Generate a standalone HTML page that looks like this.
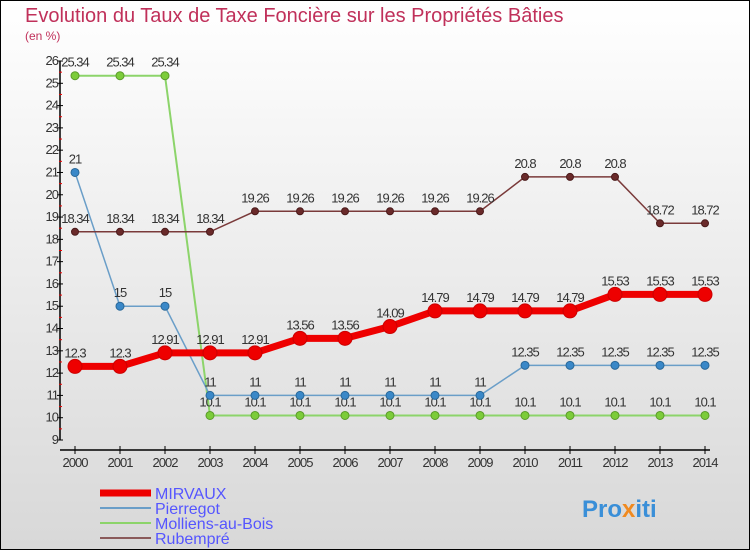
<!DOCTYPE html>
<html><head><meta charset="utf-8"><style>
body{margin:0}
#c{width:750px;height:550px;position:relative;background:linear-gradient(#fff,#d8d8d8);box-sizing:border-box;border:1px solid #000;overflow:hidden;font-family:"Liberation Sans",sans-serif}
</style></head><body>
<div id="c">
<svg id="s" width="750" height="550" style="position:absolute;left:-1px;top:-1px">
<text x="25" y="22" font-size="20" fill="#c0305a">Evolution du Taux de Taxe Foncière sur les Propriétés Bâties</text>
<text x="25" y="40" font-size="12" fill="#c0305a">(en %)</text>
<g id="axes"></g><g id="series"></g>
<g>
<line x1="100" y1="493" x2="151" y2="493" stroke="#e00" stroke-width="7"/>
<text x="155" y="499" font-size="16" fill="#55f">MIRVAUX</text>
<line x1="100" y1="508" x2="151" y2="508" stroke="#6a9ec8" stroke-width="2"/>
<text x="155" y="514" font-size="16" fill="#55f">Pierregot</text>
<line x1="100" y1="523" x2="151" y2="523" stroke="#8cd46a" stroke-width="2"/>
<text x="155" y="529" font-size="16" fill="#55f">Molliens-au-Bois</text>
<line x1="100" y1="538" x2="151" y2="538" stroke="#8a5a5a" stroke-width="2"/>
<text x="155" y="544" font-size="16" fill="#55f">Rubempré</text>
</g>
<text x="582" y="517" font-size="24" font-weight="bold" fill="#3a8fd8">Pro<tspan fill="#f08a20">x</tspan>iti</text>
</svg>
</div>
<script>
const years=[2000,2001,2002,2003,2004,2005,2006,2007,2008,2009,2010,2011,2012,2013,2014];
const mirvaux=[12.3,12.3,12.91,12.91,12.91,13.56,13.56,14.09,14.79,14.79,14.79,14.79,15.53,15.53,15.53];
const pierregot=[21,15,15,11,11,11,11,11,11,11,12.35,12.35,12.35,12.35,12.35];
const molliens=[25.34,25.34,25.34,10.1,10.1,10.1,10.1,10.1,10.1,10.1,10.1,10.1,10.1,10.1,10.1];
const rubempre=[18.34,18.34,18.34,18.34,19.26,19.26,19.26,19.26,19.26,19.26,20.8,20.8,20.8,18.72,18.72];
const yTicks=[9,10,11,12,13,14,15,16,17,18,19,20,21,22,23,24,25,26];
const NS='http://www.w3.org/2000/svg';
const xs=i=>75+i*45;
const ys=v=>440-(v-9)*(379/17);
function mk(t,a,p){const e=document.createElementNS(NS,t);for(const k in a)e.setAttribute(k,a[k]);p.appendChild(e);return e;}
const ax=document.getElementById('axes');
let l=mk('line',{x1:60,y1:ys(26),x2:60,y2:ys(9),stroke:'#000','stroke-width':1.5},ax);


l=mk('line',{x1:60,y1:450,x2:710,y2:450,stroke:'#000','stroke-width':1.5},ax);


yTicks.forEach(v=>{
 mk('line',{x1:57,y1:ys(v),x2:63,y2:ys(v),stroke:'#000'},ax);
 if(v<26) mk('line',{x1:59,y1:ys(v+0.5),x2:62,y2:ys(v+0.5),stroke:'#e00'},ax);
 const t=mk('text',{x:58,y:ys(v)+4,'font-size':13,fill:'#333','text-anchor':'end','letter-spacing':'-1'},ax);
 t.textContent=v;
 
 
});
years.forEach((y,i)=>{
 mk('line',{x1:xs(i),y1:446,x2:xs(i),y2:454,stroke:'#000'},ax);
 const t=mk('text',{x:xs(i),y:467,'font-size':13,fill:'#333','text-anchor':'middle','letter-spacing':'-1'},ax);
 t.textContent=y;
 
 
});
const sg=document.getElementById('series');
function draw(vals,name,color,w,r,dot,dotStroke){
 const g=mk('g',{},sg);
 
 
 const p=mk('polyline',{points:vals.map((v,i)=>xs(i)+','+ys(v)).join(' '),fill:'none',stroke:color,'stroke-width':w},g);
 
 
 vals.forEach((v,i)=>{
  const c=mk('circle',{cx:xs(i),cy:ys(v),r:r,fill:dot,stroke:dotStroke,'stroke-width':1},g);
  
  
  const t=mk('text',{x:xs(i),y:ys(v)-9,'font-size':13,fill:'#333','text-anchor':'middle','letter-spacing':'-1'},g);
  t.textContent=v;
  
  
 });
}
draw(molliens,'molliens','#8cd46a',2,4,'#7ccc3a','#5a9a2a');
draw(pierregot,'pierregot','#6a9ec8',1.5,4,'#3a88c8','#2a6898');
draw(rubempre,'rubempre','#7a3a3a',1.5,3.5,'#6a2a2a','#4a1a1a');
draw(mirvaux,'mirvaux','#ee0000',7,7,'#ee0000','#c00');
</script>
</body></html>
